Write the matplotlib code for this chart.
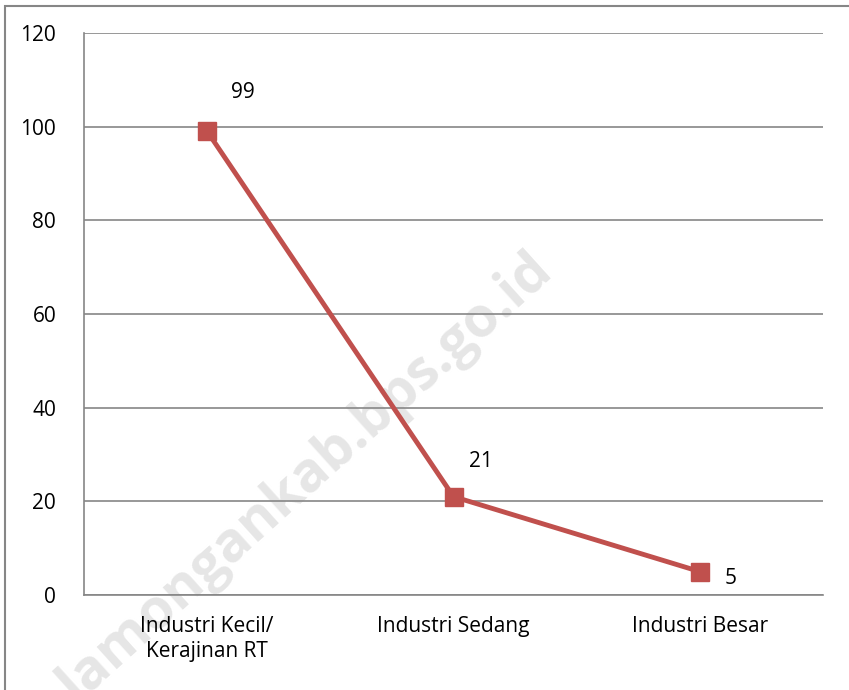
import matplotlib.pyplot as plt
from matplotlib.patches import Rectangle

categories = ["Industri Kecil/\nKerajinan RT", "Industri Sedang", "Industri Besar"]
values = [99, 21, 5]
yticks = [0, 20, 40, 60, 80, 100, 120]
# label offsets in points (x, y)
label_offsets = [(26, 28), (20, 25), (22, -5)]

plt.rcParams['font.family'] = ['Open Sans', 'DejaVu Sans']

fig = plt.figure(figsize=(8.49, 6.9), dpi=100)
ax = fig.add_axes([84/849, 1 - 595/690, (823-84)/849, (595-33)/690])
ax.patch.set_alpha(0)

# outer chart frame
fig.patches.append(Rectangle((5/849, -0.1), 1.2, 1 - 6/690 + 0.1, transform=fig.transFigure,
                             fill=False, edgecolor='#868686', linewidth=1.5, zorder=0))

grid_c = '#868686'
ax.set_xlim(0, 3)
ax.set_ylim(0, 120)
ax.set_yticks(yticks)
ax.yaxis.grid(True, color=grid_c, linewidth=1.2)
ax.set_axisbelow(True)
for s in ['top', 'right']:
    ax.spines[s].set_visible(False)
for s in ['left', 'bottom']:
    ax.spines[s].set_color(grid_c)
    ax.spines[s].set_linewidth(1.2)

xs = [i + 0.5 for i in range(len(categories))]
ax.set_xticks(xs)
ax.set_xticklabels(categories, fontsize=15, linespacing=1.25)
ax.tick_params(axis='both', length=0, labelsize=15, colors='black')
ax.tick_params(axis='y', pad=20)
ax.tick_params(axis='x', pad=15)

# watermark (behind everything)
fig.text(0.36, 0.31, "lamongankab.bps.go.id", rotation=42, fontsize=40, fontweight='bold',
         color='#e6e6e6', ha='center', va='center', zorder=-1)

ax.plot(xs, values, color='#C0504D', linewidth=3.5, marker='s', markersize=13, zorder=3)

for x, v, off in zip(xs, values, label_offsets):
    ax.annotate(str(v), (x, v), xytext=off, textcoords='offset points',
                fontsize=15, ha='center', va='center')

fig.savefig('out.png', dpi=100)
